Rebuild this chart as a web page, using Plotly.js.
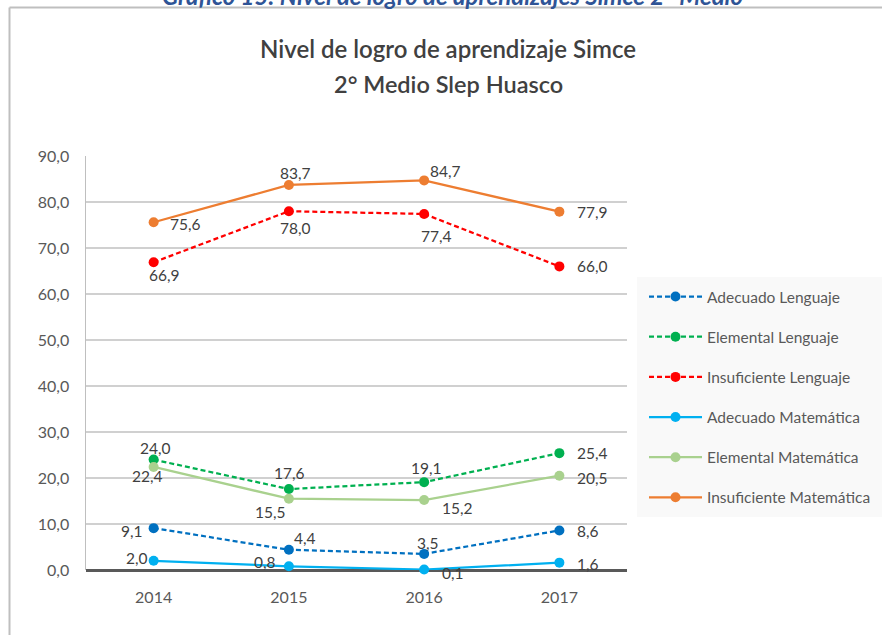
<!DOCTYPE html>
<html>
<head>
<meta charset="utf-8">
<script src="https://cdn.plot.ly/plotly-3.0.1.min.js"></script>
<style>
  html, body { margin: 0; padding: 0; background: #ffffff; }
  #chart { width: 882px; height: 635px; }
</style>
</head>
<body>
<div id="chart"></div>
<script>
// ---- Data ----
const years = ['2014', '2015', '2016', '2017'];
const seriesNames = [
  'Adecuado Lenguaje',
  'Elemental Lenguaje',
  'Insuficiente Lenguaje',
  'Adecuado Matemática',
  'Elemental Matemática',
  'Insuficiente Matemática'
];
const adecuadoLenguaje = [9.1, 4.4, 3.5, 8.6];
const elementalLenguaje = [24.0, 17.6, 19.1, 25.4];
const insuficienteLenguaje = [66.9, 78.0, 77.4, 66.0];
const adecuadoMatematica = [2.0, 0.8, 0.1, 1.6];
const elementalMatematica = [22.4, 15.5, 15.2, 20.5];
const insuficienteMatematica = [75.6, 83.7, 84.7, 77.9];
const yTickValues = [0, 10, 20, 30, 40, 50, 60, 70, 80, 90];

const chartTitle = 'Nivel de logro de aprendizaje Simce';
const chartSubtitle = '2° Medio Slep Huasco';
const caption = 'Gráfico 15: Nivel de logro de aprendizajes Simce 2° Medio';

// ---- Styles ----
const seriesValues = [adecuadoLenguaje, elementalLenguaje, insuficienteLenguaje,
                      adecuadoMatematica, elementalMatematica, insuficienteMatematica];
const colors = ['#0070C0', '#00B050', '#FF0000', '#00B0F0', '#A9D18E', '#ED7D31'];
const dashes = ['5px,3px', '5px,3px', '5px,3px', 'solid', 'solid', 'solid'];
// label offsets (px) relative to each marker: [xshift, yshift]
const labelOffsets = [
  [[-22, -3], [16, 12], [4, 11], [29, -1]],
  [[2, 12], [1, 16], [2, 14], [33, 0]],
  [[11, -13], [7, -17], [12, -22], [33, 0]],
  [[-17, 3], [-24, 4], [29, -3], [29, -1]],
  [[-6, -9], [-18, -13], [33, -8], [33, -2]],
  [[32, -2], [7, 12], [21, 9], [33, 0]]
];

const FONT = 'Lato, "Open Sans", sans-serif';
const fmt = v => v.toFixed(1).replace('.', ',');

const traces = seriesNames.map((name, i) => ({
  type: 'scatter',
  mode: 'lines+markers',
  name: name,
  x: years,
  y: seriesValues[i],
  line: { color: colors[i], width: 2.25, dash: dashes[i] },
  marker: { color: colors[i], size: 10, symbol: 'circle' },
  cliponaxis: false,
  legendgroup: 'g' + i,
  hoverinfo: 'skip'
}));

const annotations = [];
seriesValues.forEach((vals, i) => {
  vals.forEach((v, j) => {
    annotations.push({
      x: j, y: v, xref: 'x', yref: 'y',   // j = category index of years[j]
      text: fmt(v), showarrow: false,
      xshift: labelOffsets[i][j][0], yshift: labelOffsets[i][j][1],
      font: { family: FONT, size: 15.5, color: '#404040' }
    });
  });
});

// plot-area pixel geometry helpers
const PL = 86, PR = 627, PT = 156, PB = 570;
const px2x = p => (p - PL) / (PR - PL);
const px2y = p => (PB - p) / (PB - PT);

annotations.push({
  xref: 'paper', yref: 'paper', x: px2x(448.5), y: px2y(84),
  text: chartSubtitle, showarrow: false, xanchor: 'center', yanchor: 'middle',
  font: { family: FONT, size: 23.5, color: '#404040', weight: 600 }
});
annotations.push({
  xref: 'paper', yref: 'paper', x: px2x(452), y: px2y(-5),
  text: '<i><b>' + caption + '</b></i>', showarrow: false, xanchor: 'center', yanchor: 'middle',
  font: { family: FONT, size: 24, color: '#2F5496' }
});

const layout = {
  width: 882, height: 635,
  margin: { l: PL, r: 882 - PR, t: PT, b: 635 - PB, pad: 0, autoexpand: false },
  paper_bgcolor: '#ffffff', plot_bgcolor: '#ffffff',
  separators: ',.',
  title: {
    text: chartTitle,
    font: { family: FONT, size: 24, color: '#404040', weight: 600 },
    x: px2x(448), xref: 'paper', xanchor: 'center',
    y: 1 - 50 / 635, yref: 'container', yanchor: 'middle'
  },
  xaxis: {
    type: 'category', range: [-0.5, 3.5],
    showgrid: false, showline: false, zeroline: false, ticks: '',
    tickfont: { family: FONT, size: 16, color: '#595959' },
    ticklabelstandoff: 16, fixedrange: true
  },
  yaxis: {
    range: [0, 90], tickvals: yTickValues, tickformat: '.1f',
    showgrid: true, gridcolor: '#d0d0d0', gridwidth: 2,
    zeroline: true, zerolinecolor: '#595959', zerolinewidth: 3,
    showline: true, linecolor: '#bfbfbf', linewidth: 1.5,
    ticks: '', tickfont: { family: FONT, size: 16, color: '#595959' },
    ticklabelstandoff: 12, fixedrange: true
  },
  legend: {
    x: px2x(644), y: px2y(280), xanchor: 'left', yanchor: 'top',
    bgcolor: 'rgba(0,0,0,0)', borderwidth: 0,
    font: { family: FONT, size: 15.5, color: '#595959' },
    traceorder: 'grouped', tracegroupgap: 17, itemwidth: 53,
    itemclick: false, itemdoubleclick: false
  },
  showlegend: true,
  annotations: annotations,
  shapes: [
    { type: 'rect', xref: 'paper', yref: 'paper', layer: 'below',
      x0: px2x(637), x1: px2x(900), y0: px2y(277), y1: px2y(517),
      fillcolor: '#f9f9f9', line: { width: 0 } },
    { type: 'line', xref: 'paper', yref: 'paper', x0: px2x(9.5), x1: px2x(900), y0: px2y(7.5), y1: px2y(7.5),
      line: { color: '#bfbfbf', width: 2 } },
    { type: 'line', xref: 'paper', yref: 'paper', x0: px2x(9.5), x1: px2x(9.5), y0: px2y(7.5), y1: px2y(650),
      line: { color: '#bfbfbf', width: 2 } }
  ],
  hovermode: false
};

Plotly.newPlot('chart', traces, layout, { displayModeBar: false, staticPlot: true });
</script>
</body>
</html>
